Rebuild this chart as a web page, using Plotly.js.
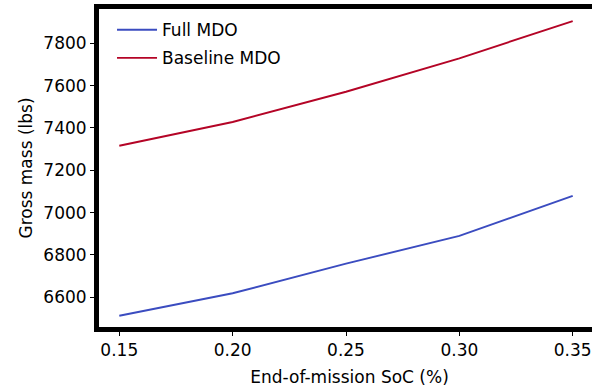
<!DOCTYPE html>
<html>
<head>
<meta charset="utf-8">
<script src="https://cdn.plot.ly/plotly-3.0.1.min.js"></script>
<style>
html, body { margin: 0; padding: 0; overflow: hidden; background: #fff; }
#chart { width: 600px; height: 390px; }
</style>
</head>
<body>
<div id="chart"></div>
<script>
const soc = [0.15, 0.20, 0.25, 0.30, 0.35];
const fullMDO = [6513, 6619, 6759, 6890, 7079];
const baselineMDO = [7316, 7428, 7571, 7729, 7905];
const xTicks = [0.15, 0.20, 0.25, 0.30, 0.35];
const xTickText = ["0.15", "0.20", "0.25", "0.30", "0.35"];
const yTicks = [6600, 6800, 7000, 7200, 7400, 7600, 7800];

const font = "DejaVu Sans, sans-serif";
const traces = [
  { x: soc, y: fullMDO, name: "Full MDO", legendgroup: "a", mode: "lines", line: { color: "#3b4cc0", width: 1.9 } },
  { x: soc, y: baselineMDO, name: "Baseline MDO", legendgroup: "b", mode: "lines", line: { color: "#b40426", width: 1.9 } }
];
const layout = {
  width: 600, height: 390,
  margin: { l: 99, r: 0, t: 9, b: 63 },
  paper_bgcolor: "#fff", plot_bgcolor: "#fff",
  font: { family: font, size: 17, color: "#000" },
  showlegend: true,
  legend: { x: 0.026, y: 0.99, xanchor: "left", yanchor: "top", bgcolor: "rgba(0,0,0,0)", borderwidth: 0,
            font: { family: font, size: 17, color: "#000" }, tracegroupgap: 3, itemwidth: 40 },
  xaxis: {
    range: [0.14105, 0.36204], tickvals: xTicks, ticktext: xTickText,
    showgrid: false, zeroline: false, showline: true, mirror: true, linecolor: "#000", linewidth: 5,
    ticks: "outside", ticklen: 4, tickwidth: 1, tickcolor: "#000",
    tickfont: { family: font, size: 17 },
    title: { text: "End-of-mission SoC (%)", font: { family: font, size: 17 }, standoff: 13 }
  },
  yaxis: {
    range: [6459.7, 7962], tickvals: yTicks,
    showgrid: false, zeroline: false, showline: true, mirror: true, linecolor: "#000", linewidth: 5,
    ticks: "outside", ticklen: 4, tickwidth: 1, tickcolor: "#000",
    tickfont: { family: font, size: 17 },
    title: { text: "Gross mass (lbs)", font: { family: font, size: 17 }, standoff: 8 }
  }
};
Plotly.newPlot("chart", traces, layout, { displayModeBar: false, staticPlot: true });
</script>
</body>
</html>
